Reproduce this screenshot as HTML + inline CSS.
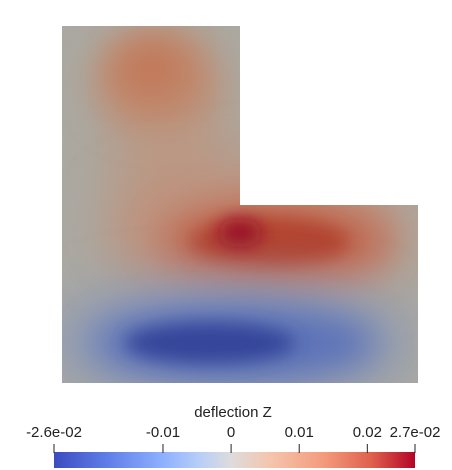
<!DOCTYPE html>
<html><head><meta charset="utf-8"><style>
html,body{margin:0;padding:0;background:#fff;width:452px;height:470px;overflow:hidden}
svg{display:block}
text{font-family:"Liberation Sans",sans-serif;fill:#222}
</style></head><body>
<svg id="chart" width="452" height="470" viewBox="0 0 452 470" xmlns="http://www.w3.org/2000/svg">
<defs>
<clipPath id="lclip"><path d="M62 26 H240 V205 H418 V383 H62 Z"/></clipPath>
<filter id="b8" x="-50%" y="-50%" width="200%" height="200%"><feGaussianBlur stdDeviation="9"/></filter>
<filter id="b15" x="-50%" y="-50%" width="200%" height="200%"><feGaussianBlur stdDeviation="18"/></filter>
<filter id="b25" x="-50%" y="-50%" width="200%" height="200%"><feGaussianBlur stdDeviation="28"/></filter>
<linearGradient id="cmap" x1="0" x2="1" y1="0" y2="0">
<stop offset="0" stop-color="#3b4cc0"/>
<stop offset="0.15" stop-color="#5f7fe8"/>
<stop offset="0.3" stop-color="#8db0fe"/>
<stop offset="0.4" stop-color="#b6cdf8"/>
<stop offset="0.49" stop-color="#dddcdc"/>
<stop offset="0.6" stop-color="#f4c5ad"/>
<stop offset="0.75" stop-color="#f39a7b"/>
<stop offset="0.88" stop-color="#de604d"/>
<stop offset="1" stop-color="#b40426"/>
</linearGradient>
</defs>
<g clip-path="url(#lclip)">
<rect x="62" y="26" width="356" height="357" fill="#aaa9a2"/>
<ellipse cx="170" cy="150" rx="60" ry="110" fill="#b99a86" filter="url(#b25)"/>
<ellipse cx="155" cy="78" rx="60" ry="50" fill="#c08a6e" filter="url(#b15)"/>
<ellipse cx="152" cy="70" rx="32" ry="26" fill="#c27657" filter="url(#b15)"/>
<ellipse cx="260" cy="235" rx="150" ry="70" fill="#c0917b" filter="url(#b25)"/>
<ellipse cx="275" cy="242" rx="115" ry="42" fill="#c06a52" filter="url(#b15)"/>
<ellipse cx="270" cy="242" rx="80" ry="24" fill="#b2422f" filter="url(#b8)"/>
<ellipse cx="240" cy="233" rx="22" ry="14" fill="#9a0f26" filter="url(#b8)"/>
<ellipse cx="230" cy="342" rx="180" ry="58" fill="#8896b8" filter="url(#b25)"/>
<ellipse cx="235" cy="343" rx="140" ry="36" fill="#5a71b8" filter="url(#b15)"/>
<ellipse cx="210" cy="343" rx="85" ry="20" fill="#34449a" filter="url(#b8)"/>
</g>
<text x="233" y="417" text-anchor="middle" font-size="15">deflection Z</text>
<g id="colorbar">
<rect x="54" y="452" width="361" height="16" fill="url(#cmap)"/>
</g>
<script>
const tickValues = [-0.026, -0.01, 0, 0.01, 0.02, 0.027];
const tickLabels = ["-2.6e-02", "-0.01", "0", "0.01", "0.02", "2.7e-02"];
const rangeMin = -0.026, rangeMax = 0.027;
(function(){
  const ns = "http://www.w3.org/2000/svg";
  const g = document.getElementById('colorbar');
  const x0 = 54, x1 = 415;
  const sx = v => x0 + (v - rangeMin) / (rangeMax - rangeMin) * (x1 - x0);
  tickValues.forEach((v, i) => {
    const x = sx(v);
    const ln = document.createElementNS(ns, 'line');
    ln.setAttribute('x1', x); ln.setAttribute('x2', x);
    ln.setAttribute('y1', 444); ln.setAttribute('y2', 453);
    ln.setAttribute('stroke', '#222'); ln.setAttribute('stroke-width', '1');
    
    
    g.appendChild(ln);
    const t = document.createElementNS(ns, 'text');
    t.setAttribute('x', x); t.setAttribute('y', 437);
    t.setAttribute('font-size', '15');
    t.setAttribute('text-anchor', 'middle');
    t.textContent = tickLabels[i];
    
    
    g.appendChild(t);
  });
})();
</script>
</svg>
</body></html>
